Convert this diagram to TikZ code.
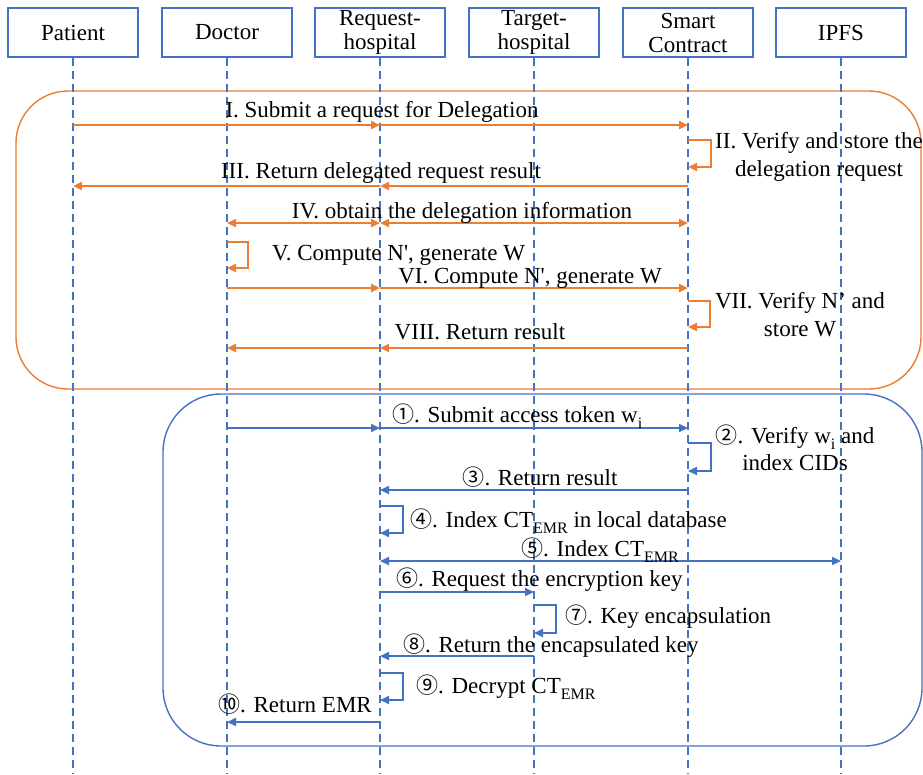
\documentclass[tikz,border=0pt]{standalone}
\usepackage{fontspec}
\setmainfont{Liberation Serif}[Ligatures=TeXOff]
\newfontfamily\circfont{Noto Sans CJK SC}
\usetikzlibrary{arrows.meta}
\definecolor{lineblue}{HTML}{4472C4}
\definecolor{lineorange}{HTML}{ED7D31}
% circled step numbers and lowered subscripts
\newcommand{\cnum}[1]{{\circfont\fontsize{22}{22}\selectfont #1}}
\newcommand{\lowsub}[1]{\raisebox{-0.28em}{\fontsize{16}{16}\selectfont #1}}
\begin{document}
\begin{tikzpicture}[x=1pt,y=-1pt,
  font=\fontsize{23}{24}\selectfont,
  actor/.style={draw=lineblue, line width=1.8pt, minimum width=130pt,
    minimum height=49pt, inner sep=0pt, align=center, fill=white},
  life/.style={draw=lineblue, line width=2pt, dash pattern=on 8pt off 5pt},
  omsg/.style={draw=lineorange, line width=2.3pt, -{Triangle[length=9pt,width=8pt]}},
  obi/.style={draw=lineorange, line width=2.3pt, {Triangle[length=9pt,width=8pt]}-{Triangle[length=9pt,width=8pt]}},
  bmsg/.style={draw=lineblue, line width=2pt, -{Triangle[length=9pt,width=8pt]}},
  bbi/.style={draw=lineblue, line width=2pt, {Triangle[length=9pt,width=8pt]}-{Triangle[length=9pt,width=8pt]}},
  lbl/.style={inner sep=0pt, anchor=base},
  lbll/.style={inner sep=0pt, anchor=base west},
  phase/.style={line width=1.4pt, rounded corners=52pt}]
\useasboundingbox (0,0) rectangle (923,774);

% phase frames
\draw[phase, draw=lineorange] (16,91) rectangle (921,389);
\draw[phase, draw=lineblue, rounded corners=58pt] (163,394) rectangle (922,746);

% participants
\node[actor] (patient) at (73,32.5) {Patient};
\node[actor] (doctor) at (227,32.5) {Doctor};
\node[actor] (req) at (380,32.5) {Request-\\hospital};
\node[actor] (target) at (534,32.5) {Target-\\hospital};
\node[actor] (smart) at (688,32.5) {Smart\\Contract};
\node[actor] (ipfs) at (841,32.5) {IPFS};

% lifelines
\foreach \a in {patient,doctor,req,target,smart,ipfs}
  \draw[life] (\a.south) -- (\a |- 0,774);

% ---- delegation phase ----
\draw[omsg] (patient |- 0,125) -- (req |- 0,125);
\draw[omsg] (req |- 0,125) -- (smart |- 0,125);
\node[lbl] at (382,117) {I. Submit a request for Delegation};

\draw[omsg] (smart |- 0,140) -- ++(23,0) -- ++(0,27) -- ++(-23,0);
\node[lbl] at (819,148) {II. Verify and store the};
\node[lbl] at (819,176) {delegation request};

\draw[omsg] (smart |- 0,186) -- (req |- 0,186);
\draw[omsg] (req |- 0,186) -- (patient |- 0,186);
\node[lbl] at (381,178) {III. Return delegated request result};

\draw[obi] (doctor |- 0,223) -- (req |- 0,223);
\draw[obi] (req |- 0,223) -- (smart |- 0,223);
\node[lbl] at (462,218) {IV. obtain the delegation information};

\draw[omsg] (doctor |- 0,242) -- ++(21,0) -- ++(0,26) -- ++(-21,0);
\node[lbll] at (272,260) {V. Compute N', generate W};

\draw[omsg] (doctor |- 0,288) -- (req |- 0,288);
\draw[omsg] (req |- 0,288) -- (smart |- 0,288);
\node[lbl] at (530,283) {VI. Compute N', generate W};

\draw[omsg] (smart |- 0,301) -- ++(22,0) -- ++(0,26) -- ++(-22,0);
\node[lbl] at (800,308) {VII. Verify N’ and};
\node[lbl] at (800,336) {store W};

\draw[omsg] (smart |- 0,348) -- (req |- 0,348);
\draw[omsg] (req |- 0,348) -- (doctor |- 0,348);
\node[lbl] at (480,339) {VIII. Return result};

% ---- access phase ----
\draw[bmsg] (doctor |- 0,428) -- (req |- 0,428);
\draw[bmsg] (req |- 0,428) -- (smart |- 0,428);
\node[lbll] at (392,422) {\cnum{①}. Submit access token w\lowsub{i}};

\draw[bmsg] (smart |- 0,443) -- ++(23,0) -- ++(0,28) -- ++(-23,0);
\node[lbl] at (795,443) {\cnum{②}. Verify w\lowsub{i} and};
\node[lbl] at (795,470) {index CIDs};

\draw[bmsg] (smart |- 0,490) -- (req |- 0,490);
\node[lbl] at (540,485) {\cnum{③}. Return result};

\draw[bmsg] (req |- 0,506) -- ++(23,0) -- ++(0,27) -- ++(-23,0);
\node[lbll] at (410,527) {\cnum{④}. Index CT\lowsub{EMR} in local database};

\draw[bbi] (req |- 0,561) -- (ipfs |- 0,561);
\node[lbl] at (600,556) {\cnum{⑤}. Index CT\lowsub{EMR}};

\draw[bmsg] (req |- 0,592) -- (target |- 0,592);
\node[lbll] at (396,586) {\cnum{⑥}. Request the encryption key};

\draw[bmsg] (target |- 0,605) -- ++(22,0) -- ++(0,28) -- ++(-22,0);
\node[lbll] at (565,623) {\cnum{⑦}. Key encapsulation};

\draw[bmsg] (target |- 0,656) -- (req |- 0,656);
\node[lbll] at (403,652) {\cnum{⑧}. Return the encapsulated key};

\draw[bmsg] (req |- 0,673) -- ++(23,0) -- ++(0,27) -- ++(-23,0);
\node[lbll] at (416,693) {\cnum{⑨}. Decrypt CT\lowsub{EMR}};

\draw[bmsg] (req |- 0,722) -- (doctor |- 0,722);
\node[lbll] at (218,712) {\cnum{⑩}. Return EMR};
\end{tikzpicture}
\end{document}
